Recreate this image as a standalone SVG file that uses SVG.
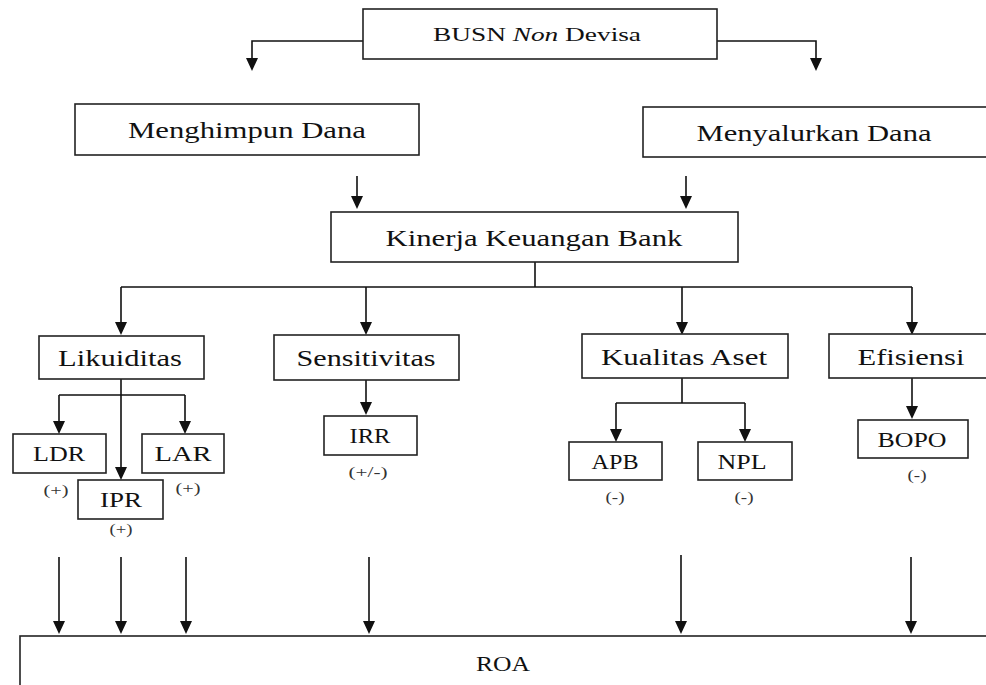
<svg xmlns="http://www.w3.org/2000/svg" width="986" height="685" viewBox="0 0 986 685">
<style>
.box{fill:#fff;stroke:#222;stroke-width:1.6}
.t{font-family:"Liberation Serif","Times New Roman",serif;font-size:24px;fill:#111;text-anchor:middle}
.s{font-family:"Liberation Serif","Times New Roman",serif;font-size:20px;fill:#111;text-anchor:middle}
.n{font-family:"Liberation Serif","Times New Roman",serif;font-size:15px;fill:#333;text-anchor:middle}
.c{fill:none;stroke:#111;stroke-width:1.6}
.h{fill:#111}
</style>
<rect width="986" height="685" fill="#fff"/>
<g id="connectors">
<path class="c" d="M363,41 H252 V58"/>
<path class="c" d="M717,41 H816 V58"/>
<path class="h" d="M246,58 L258,58 L252,71 Z M810,58 L822,58 L816,71 Z"/>
<path class="c" d="M357,176 V196 M686,176 V196"/>
<path class="h" d="M351,196 L363,196 L357,209 Z M680,196 L692,196 L686,209 Z"/>
<path class="c" d="M535,262 V287 M121,287 H912 M121,287 V322 M366,287 V322 M682,287 V322 M912,287 V322"/>
<path class="h" d="M115,322 L127,322 L121,335 Z M360,322 L372,322 L366,335 Z M676,322 L688,322 L682,335 Z M906,322 L918,322 L912,335 Z"/>
<path class="c" d="M121,379 V468 M59,395 H185 M59,395 V421 M185,395 V421"/>
<path class="h" d="M115,467 L127,467 L121,480 Z M53,421 L65,421 L59,434 Z M179,421 L191,421 L185,434 Z"/>
<path class="c" d="M366,380 V402"/>
<path class="h" d="M360,402 L372,402 L366,415 Z"/>
<path class="c" d="M682,378 V403 M616,403 H745 M616,403 V429 M745,403 V429"/>
<path class="h" d="M610,429 L622,429 L616,442 Z M739,429 L751,429 L745,442 Z"/>
<path class="c" d="M912,378 V406"/>
<path class="h" d="M906,406 L918,406 L912,419 Z"/>
<path class="c" d="M59,557 V621 M121,557 V621 M186,557 V621 M369,557 V621 M681,555 V621 M911,557 V621"/>
<path class="h" d="M53,621 L65,621 L59,634 Z M115,621 L127,621 L121,634 Z M180,621 L192,621 L186,634 Z M363,621 L375,621 L369,634 Z M675,621 L687,621 L681,634 Z M905,621 L917,621 L911,634 Z"/>
</g>
<g id="busn"><rect class="box" x="363" y="9" width="354" height="50"/><text class="t" x="537" y="41" style="font-size:19px" textLength="208" lengthAdjust="spacingAndGlyphs">BUSN <tspan font-style="italic">Non</tspan> Devisa</text></g>
<g id="menghimpun"><rect class="box" x="75" y="104" width="344" height="51"/><text class="t" x="247" y="138" textLength="238" lengthAdjust="spacingAndGlyphs">Menghimpun Dana</text></g>
<g id="menyalurkan"><rect class="box" x="643" y="107" width="350" height="50"/><text class="t" x="814" y="141" textLength="235" lengthAdjust="spacingAndGlyphs">Menyalurkan Dana</text></g>
<g id="kinerja"><rect class="box" x="331" y="212" width="407" height="50"/><text class="t" x="534" y="246" textLength="297" lengthAdjust="spacingAndGlyphs">Kinerja Keuangan Bank</text></g>
<g id="likuiditas"><rect class="box" x="39" y="336" width="165" height="43"/><text class="t" x="120" y="366" textLength="124" lengthAdjust="spacingAndGlyphs">Likuiditas</text></g>
<g id="sensitivitas"><rect class="box" x="274" y="335" width="185" height="45"/><text class="t" x="366" y="366" textLength="139" lengthAdjust="spacingAndGlyphs">Sensitivitas</text></g>
<g id="kualitas"><rect class="box" x="582" y="334" width="206" height="44"/><text class="t" x="684" y="365" textLength="166" lengthAdjust="spacingAndGlyphs">Kualitas Aset</text></g>
<g id="efisiensi"><rect class="box" x="829" y="334" width="166" height="44"/><text class="t" x="911" y="365" textLength="107" lengthAdjust="spacingAndGlyphs">Efisiensi</text></g>
<g id="ldr"><rect class="box" x="13" y="434" width="93" height="39"/><text class="s" x="59" y="461" textLength="52" lengthAdjust="spacingAndGlyphs">LDR</text><text class="n" x="56" y="495" textLength="25" lengthAdjust="spacingAndGlyphs">(+)</text></g>
<g id="lar"><rect class="box" x="142" y="434" width="82" height="39"/><text class="s" x="183" y="461" textLength="57" lengthAdjust="spacingAndGlyphs">LAR</text><text class="n" x="188" y="493" textLength="25" lengthAdjust="spacingAndGlyphs">(+)</text></g>
<g id="ipr"><rect class="box" x="78" y="480" width="85" height="39"/><text class="s" x="121" y="507" textLength="42" lengthAdjust="spacingAndGlyphs">IPR</text><text class="n" x="121" y="534" textLength="23" lengthAdjust="spacingAndGlyphs">(+)</text></g>
<g id="irr"><rect class="box" x="324" y="416" width="93" height="39"/><text class="s" x="370" y="443" textLength="41" lengthAdjust="spacingAndGlyphs">IRR</text><text class="n" x="368" y="477" textLength="39" lengthAdjust="spacingAndGlyphs">(+/-)</text></g>
<g id="apb"><rect class="box" x="569" y="442" width="93" height="38"/><text class="s" x="615" y="469" textLength="47" lengthAdjust="spacingAndGlyphs">APB</text><text class="n" x="615" y="502" textLength="19" lengthAdjust="spacingAndGlyphs">(-)</text></g>
<g id="npl"><rect class="box" x="698" y="442" width="94" height="38"/><text class="s" x="742" y="469" textLength="49" lengthAdjust="spacingAndGlyphs">NPL</text><text class="n" x="744" y="502" textLength="19" lengthAdjust="spacingAndGlyphs">(-)</text></g>
<g id="bopo"><rect class="box" x="858" y="420" width="110" height="38"/><text class="s" x="912" y="447" textLength="69" lengthAdjust="spacingAndGlyphs">BOPO</text><text class="n" x="917" y="480" textLength="19" lengthAdjust="spacingAndGlyphs">(-)</text></g>
<g id="roa"><rect class="box" x="20" y="636" width="980" height="60"/><text class="s" x="503" y="671" textLength="54" lengthAdjust="spacingAndGlyphs">ROA</text></g>
</svg>
